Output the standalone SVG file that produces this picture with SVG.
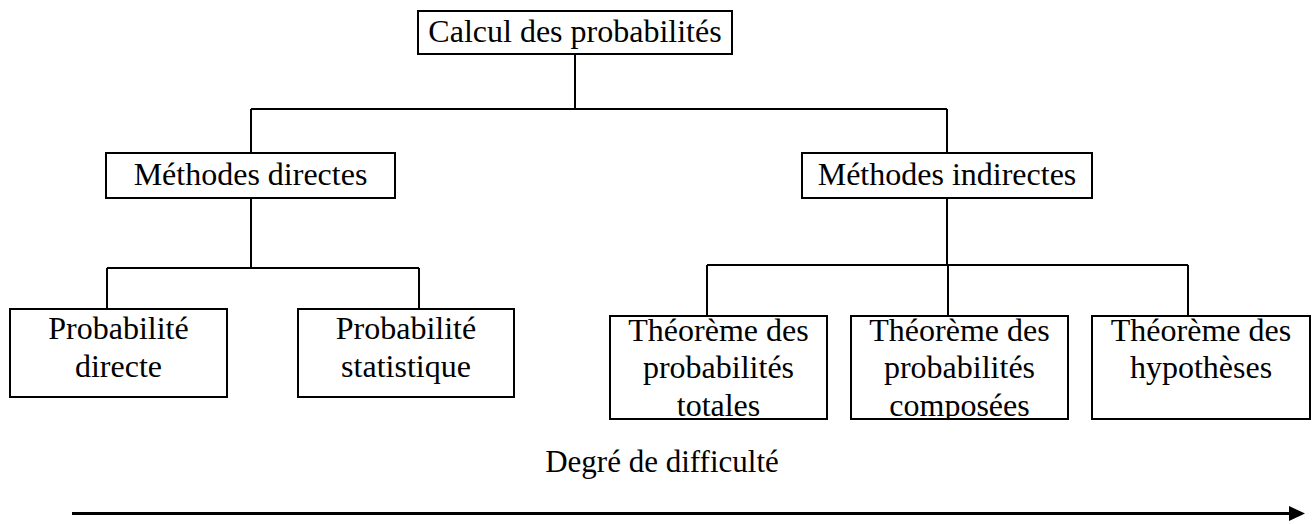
<svg xmlns="http://www.w3.org/2000/svg" width="1314" height="524" viewBox="0 0 1314 524">
<style>
.box{fill:#fff;stroke:#000;stroke-width:2}
.t{font-family:"Liberation Serif","Times New Roman",serif;font-size:32px;fill:#000;text-anchor:middle}
.c{fill:none;stroke:#000;stroke-width:2}
</style>
<defs>
<clipPath id="cp1"><rect x="610" y="316" width="217" height="103"/></clipPath>
<clipPath id="cp2"><rect x="851" y="316" width="217" height="103"/></clipPath>
</defs>
<rect width="1314" height="524" fill="#fff"/>
<g id="connectors">
<path class="c" d="M575 54V109M251 109H947M251 109V153M947 109V153"/>
<path class="c" d="M251 198V268M107 268H419M107 268V309M419 268V309"/>
<path class="c" d="M947 198V265M707 265H1188M707 265V316M948 265V316M1188 265V316"/>
</g>
<g id="n-calcul"><rect class="box" x="418" y="11" width="314" height="43"/><text class="t" x="575" y="42">Calcul des probabilités</text></g>
<g id="n-directes"><rect class="box" x="106" y="153" width="289" height="45"/><text class="t" x="250.5" y="185">Méthodes directes</text></g>
<g id="n-indirectes"><rect class="box" x="802" y="153" width="290" height="45"/><text class="t" x="947" y="185">Méthodes indirectes</text></g>
<g id="n-pdirecte"><rect class="box" x="10" y="309" width="217" height="88"/><text class="t" x="118.5" y="339">Probabilité</text><text class="t" x="118.5" y="377">directe</text></g>
<g id="n-pstat"><rect class="box" x="298" y="309" width="216" height="88"/><text class="t" x="406" y="339">Probabilité</text><text class="t" x="406" y="377">statistique</text></g>
<g id="n-totales"><rect class="box" x="610" y="316" width="217" height="103"/><g clip-path="url(#cp1)"><text class="t" x="718.5" y="341">Théorème des</text><text class="t" x="718.5" y="378">probabilités</text><text class="t" x="718.5" y="416">totales</text></g></g>
<g id="n-composees"><rect class="box" x="851" y="316" width="217" height="103"/><g clip-path="url(#cp2)"><text class="t" x="959.5" y="341">Théorème des</text><text class="t" x="959.5" y="378">probabilités</text><text class="t" x="959.5" y="416">composées</text></g></g>
<g id="n-hypotheses"><rect class="box" x="1092" y="316" width="218" height="103"/><text class="t" x="1201" y="341">Théorème des</text><text class="t" x="1201" y="378">hypothèses</text></g>
<g id="axis">
<text class="t" x="662" y="472" style="font-size:31px">Degré de difficulté</text>
<line x1="72" y1="513.5" x2="1292" y2="513.5" stroke="#000" stroke-width="3"/>
<polygon points="1289,506 1305,513.5 1289,521" fill="#000"/>
</g>
</svg>
